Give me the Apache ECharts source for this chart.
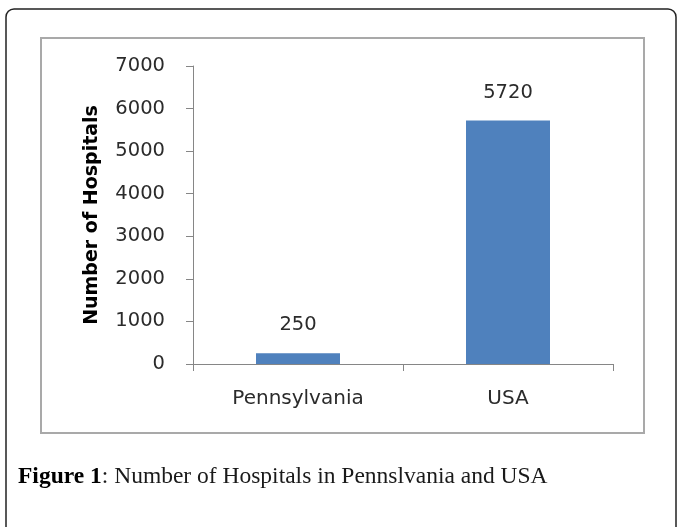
<!DOCTYPE html>
<html>
<head>
<meta charset="utf-8">
<script src="https://cdn.jsdelivr.net/npm/echarts@6/dist/echarts.min.js"></script>
<style>
html,body{margin:0;padding:0;background:#fff;}
#chart{width:678px;height:527px;}
</style>
</head>
<body>
<div id="chart"></div>
<script>
const categories = ['Pennsylvania', 'USA'];
const hospitals = [250, 5720];
const yTicks = { min: 0, max: 7000, interval: 1000 };
const yTitle = 'Number of Hospitals';
const captionBold = 'Figure 1';
const captionRest = ': Number of Hospitals in Pennslvania and USA';

const chart = echarts.init(document.getElementById('chart'), null, { renderer: 'canvas' });
const labelFont = 'DejaVu Sans';
chart.setOption({
  backgroundColor: '#ffffff',
  animation: false,
  grid: { left: 193, right: 65, top: 66, bottom: 163, containLabel: false },
  xAxis: {
    type: 'category',
    data: categories,
    axisLine: { show: true, lineStyle: { color: '#868686', width: 1 } },
    axisTick: { show: true, length: 7, lineStyle: { color: '#868686' } },
    axisLabel: { margin: 25, fontFamily: labelFont, fontSize: 20, color: '#2b2b2b' },
    splitLine: { show: false }
  },
  yAxis: {
    type: 'value',
    min: yTicks.min, max: yTicks.max, interval: yTicks.interval,
    name: yTitle,
    nameLocation: 'middle',
    nameGap: 91,
    nameTextStyle: { fontFamily: labelFont, fontWeight: 'bold', fontSize: 19, color: '#000000' },
    axisLine: { show: true, lineStyle: { color: '#868686', width: 1 } },
    axisTick: { show: true, length: 7, lineStyle: { color: '#868686' } },
    axisLabel: { margin: 28, fontFamily: labelFont, fontSize: 19.5, color: '#2b2b2b',
      formatter: function (v) { return String(v); } },
    splitLine: { show: false }
  },
  series: [{
    type: 'bar',
    data: hospitals,
    barWidth: '40%',
    itemStyle: { color: '#4f81bd' },
    label: { show: true, position: 'top', distance: 18, fontFamily: labelFont, fontSize: 19.5, color: '#2b2b2b' }
  }],
  graphic: [
    { type: 'rect', z: -10, shape: { x: 6, y: 9, width: 670, height: 560, r: 8 },
      style: { fill: 'none', stroke: '#222222', lineWidth: 1.5 } },
    { type: 'rect', z: -10, shape: { x: 41, y: 38, width: 603, height: 395 },
      style: { fill: 'none', stroke: '#a9a9a9', lineWidth: 2 } },
    { type: 'text', left: 18, top: 465,
      style: {
        text: '{b|' + captionBold + '}{r|' + captionRest + '}',
        rich: {
          b: { fontFamily: 'Liberation Serif', fontWeight: 'bold', fontSize: 23.5, fill: '#000000' },
          r: { fontFamily: 'Liberation Serif', fontSize: 23.5, fill: '#1a1a1a' }
        }
      } }
  ]
});
</script>
</body>
</html>
